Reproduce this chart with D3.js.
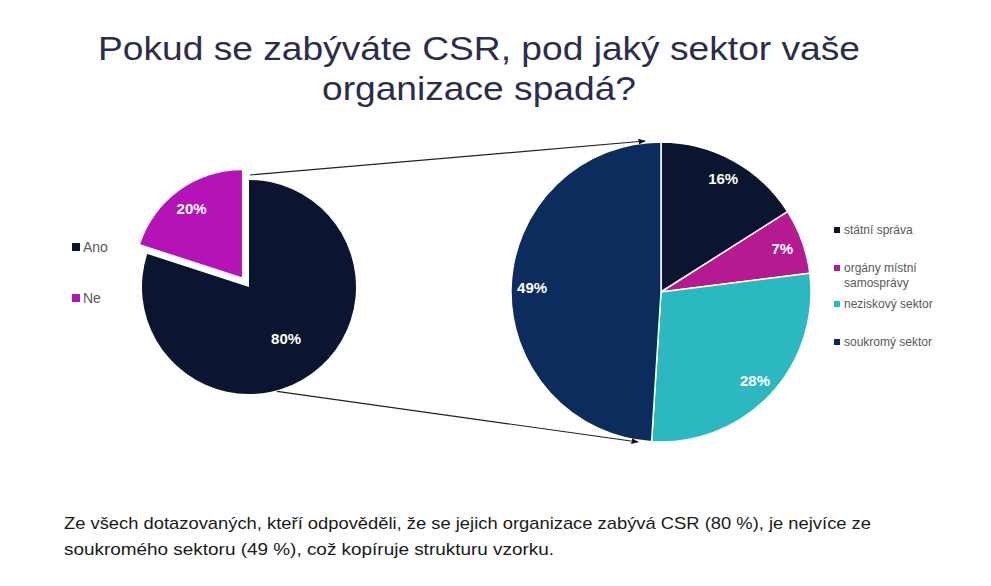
<!DOCTYPE html>
<html>
<head>
<meta charset="utf-8">
<script src="https://cdn.jsdelivr.net/npm/d3@7"></script>
<style>
  html, body { margin: 0; padding: 0; background: #fff; }
  svg { display: block; }
</style>
</head>
<body>
<svg id="chart" width="991" height="586"></svg>
<script>
// ---- data ----
const titleLines = ["Pokud se zabýváte CSR, pod jaký sektor vaše", "organizace spadá?"];
const noteLines = [
  "Ze všech dotazovaných, kteří odpověděli, že se jejich organizace zabývá CSR (80 %), je nejvíce ze",
  "soukromého sektoru (49 %), což kopíruje strukturu vzorku."
];
const leftCategories = ["Ano", "Ne"];
const leftValues = [80, 20];
const rightCategories = ["státní správa", "orgány místní samosprávy", "neziskový sektor", "soukromý sektor"];
const rightLegendLines = [["státní správa"], ["orgány místní", "samosprávy"], ["neziskový sektor"], ["soukromý sektor"]];
const rightValues = [16, 7, 28, 49];

// ---- styles / layout ----
const leftColors = ["#0c1530", "#b413b6"];
const rightColors = ["#0c1530", "#b61a90", "#2cb8c1", "#0b2c5c"];
const sans = "'Liberation Sans', Arial, sans-serif";

const svg = d3.select("#chart");

// Title (condensed look via textLength)
const titleW = [762, 314];
const titleY = [60, 100];
titleLines.forEach((t, i) => {
  svg.append("text").attr("x", 479).attr("y", titleY[i]).attr("text-anchor", "middle")
    .attr("fill", "#2b2e4a").style("font-family", sans).style("font-size", "34px")
    .attr("textLength", titleW[i]).attr("lengthAdjust", "spacingAndGlyphs")
    .text(t);
});

// Note at bottom
const noteW = [807, 490];
const noteY = [529, 555];
noteLines.forEach((t, i) => {
  svg.append("text").attr("x", 64).attr("y", noteY[i]).attr("fill", "#1a1a1a")
    .style("font-family", sans).style("font-size", "17px")
    .attr("textLength", noteW[i]).attr("lengthAdjust", "spacingAndGlyphs")
    .text(t);
});

// ---- left pie ----
const L = { cx: 249, cy: 287, r: 107, explode: 12, labelR: [0.59, 0.8] };
const pie = d3.pie().sort(null).value(d => d).startAngle(0).endAngle(2 * Math.PI);
const leftArcs = pie(leftValues);
const leftArc = d3.arc().innerRadius(0).outerRadius(L.r);
const gL = svg.append("g").attr("transform", `translate(${L.cx},${L.cy})`);
leftArcs.forEach((a, i) => {
  const mid = (a.startAngle + a.endAngle) / 2;
  const off = i === 1 ? L.explode : 0;
  const dx = off * Math.sin(mid), dy = -off * Math.cos(mid);
  const g = gL.append("g").attr("transform", `translate(${dx},${dy})`);
  g.append("path").attr("d", leftArc(a)).attr("fill", leftColors[i]);
  const lr = L.r * L.labelR[i];
  g.append("text")
    .attr("x", lr * Math.sin(mid)).attr("y", -lr * Math.cos(mid))
    .attr("text-anchor", "middle").attr("dominant-baseline", "central")
    .attr("fill", "#fff").style("font-family", sans).style("font-weight", "bold").style("font-size", "15px")
    .text(a.data + "%");
});

// left legend
leftCategories.forEach((c, i) => {
  const y = 247 + i * 51;
  svg.append("rect").attr("x", 72).attr("y", y - 4).attr("width", 8).attr("height", 8).attr("fill", leftColors[i]);
  svg.append("text").attr("x", 83).attr("y", y).attr("dominant-baseline", "central")
    .attr("fill", "#595959").style("font-family", sans).style("font-size", "14px").text(c);
});

// ---- right pie ----
const R = { cx: 661, cy: 292, r: 150, labelR: 0.86 };
const rightArcs = pie(rightValues);
const rightArc = d3.arc().innerRadius(0).outerRadius(R.r);
const gR = svg.append("g").attr("transform", `translate(${R.cx},${R.cy})`);
gR.selectAll("path").data(rightArcs).join("path")
  .attr("d", rightArc).attr("fill", (d, i) => rightColors[i])
  .attr("stroke", "#fff").attr("stroke-width", 1.5).attr("stroke-linejoin", "round");
gR.selectAll("text").data(rightArcs).join("text")
  .attr("x", d => R.r * R.labelR * Math.sin((d.startAngle + d.endAngle) / 2))
  .attr("y", d => -R.r * R.labelR * Math.cos((d.startAngle + d.endAngle) / 2))
  .attr("text-anchor", "middle").attr("dominant-baseline", "central")
  .attr("fill", "#fff").style("font-family", sans).style("font-weight", "bold").style("font-size", "15px")
  .text(d => d.data + "%");

// right legend
const legendY = [230, 268, 304, 342];
rightLegendLines.forEach((lines, i) => {
  const y = legendY[i];
  svg.append("rect").attr("x", 834).attr("y", y - 3).attr("width", 6).attr("height", 6).attr("fill", rightColors[i]);
  lines.forEach((ln, j) => {
    svg.append("text").attr("x", 844).attr("y", y + j * 15).attr("dominant-baseline", "central")
      .attr("fill", "#595959").style("font-family", sans).style("font-size", "12px").text(ln);
  });
});

// ---- connector lines with arrowheads ----
const defs = svg.append("defs");
defs.append("marker").attr("id", "arr").attr("viewBox", "0 0 10 10").attr("refX", 9).attr("refY", 5)
  .attr("markerWidth", 6).attr("markerHeight", 6).attr("orient", "auto")
  .append("path").attr("d", "M0,1 L10,5 L0,9 Z").attr("fill", "#111");

const leftTop = [L.cx + 1, L.cy - L.r - 5];
const rightTop = [R.cx - 16, R.cy - R.r - 1];
svg.append("line").attr("x1", leftTop[0]).attr("y1", leftTop[1]).attr("x2", rightTop[0]).attr("y2", rightTop[1])
  .attr("stroke", "#222").attr("stroke-width", 1.2).attr("marker-end", "url(#arr)");
const leftBot = [L.cx + (L.r + 1) * Math.sin(2.88), L.cy - (L.r + 1) * Math.cos(2.88)];
const rightBot = [R.cx - 23, R.cy + R.r];
svg.append("line").attr("x1", leftBot[0]).attr("y1", leftBot[1]).attr("x2", rightBot[0]).attr("y2", rightBot[1])
  .attr("stroke", "#222").attr("stroke-width", 1.2).attr("marker-end", "url(#arr)");
</script>
</body>
</html>
